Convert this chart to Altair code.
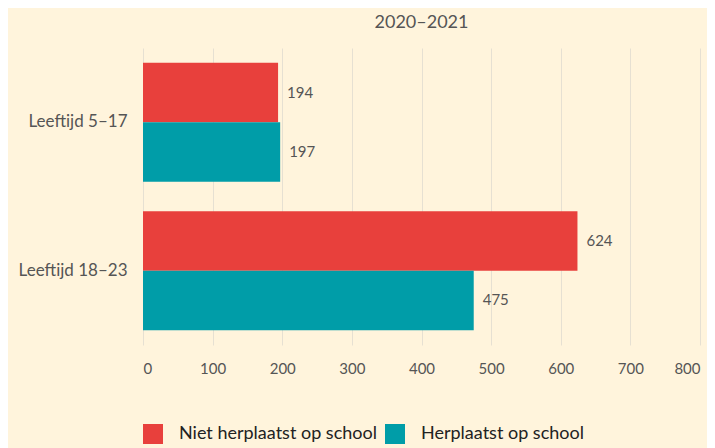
import altair as alt
import pandas as pd

categories = ["Leeftijd 5–17", "Leeftijd 5–17", "Leeftijd 18–23", "Leeftijd 18–23"]
series = ["Niet herplaatst op school", "Herplaatst op school",
          "Niet herplaatst op school", "Herplaatst op school"]
values = [194, 197, 624, 475]
cat_order = ["Leeftijd 5–17", "Leeftijd 18–23"]
series_order = ["Niet herplaatst op school", "Herplaatst op school"]
colors = ["#E8403C", "#009DA8"]

df = pd.DataFrame({"cat": categories, "serie": series, "value": values})

FONT = "Lato"

base = alt.Chart(df).encode(
    y=alt.Y("cat:N", sort=cat_order, title=None,
            scale=alt.Scale(paddingInner=0.2, paddingOuter=0.1),
            axis=alt.Axis(domain=False, ticks=False, labelPadding=16,
                          labelFontSize=17, labelColor="#555555", labelFont=FONT)),
    yOffset=alt.YOffset("serie:N", sort=series_order),
    x=alt.X("value:Q", title=None, scale=alt.Scale(domain=[0, 800]),
            axis=alt.Axis(values=[0, 100, 200, 300, 400, 500, 600, 700, 800],
                          domain=False, ticks=False, labelPadding=16,
                          labelFontSize=15, labelColor="#555555", labelFont=FONT,
                          gridColor="#E6E0D2", gridWidth=1)),
)

bars = base.mark_bar().encode(
    color=alt.Color("serie:N", sort=series_order,
                    scale=alt.Scale(domain=series_order, range=colors),
                    legend=alt.Legend(title=None, orient="none", direction="horizontal",
                                      legendX=0, legendY=376, symbolType="square",
                                      symbolSize=400, symbolStrokeWidth=0,
                                      symbolOpacity=1, labelLimit=400,
                                      labelFontSize=18, labelColor="#222222",
                                      labelFont=FONT, columnPadding=8, labelOffset=16))
)

text = base.mark_text(align="left", dx=9, fontSize=15, color="#555555", font=FONT).encode(
    text=alt.Text("value:Q")
)

chart = (bars + text).properties(
    width=557, height=297,
    title=alt.TitleParams("2020–2021", fontSize=18, font=FONT, color="#555555",
                          fontWeight="normal", anchor="middle", offset=16),
    background="#FFF4DC",
    autosize=alt.AutoSizeParams(type="none"),
    padding={"left": 135, "top": 40, "right": 7, "bottom": 103},
).configure_view(stroke=None)

chart.save("out.html", embed_options={"renderer": "svg", "actions": False})
